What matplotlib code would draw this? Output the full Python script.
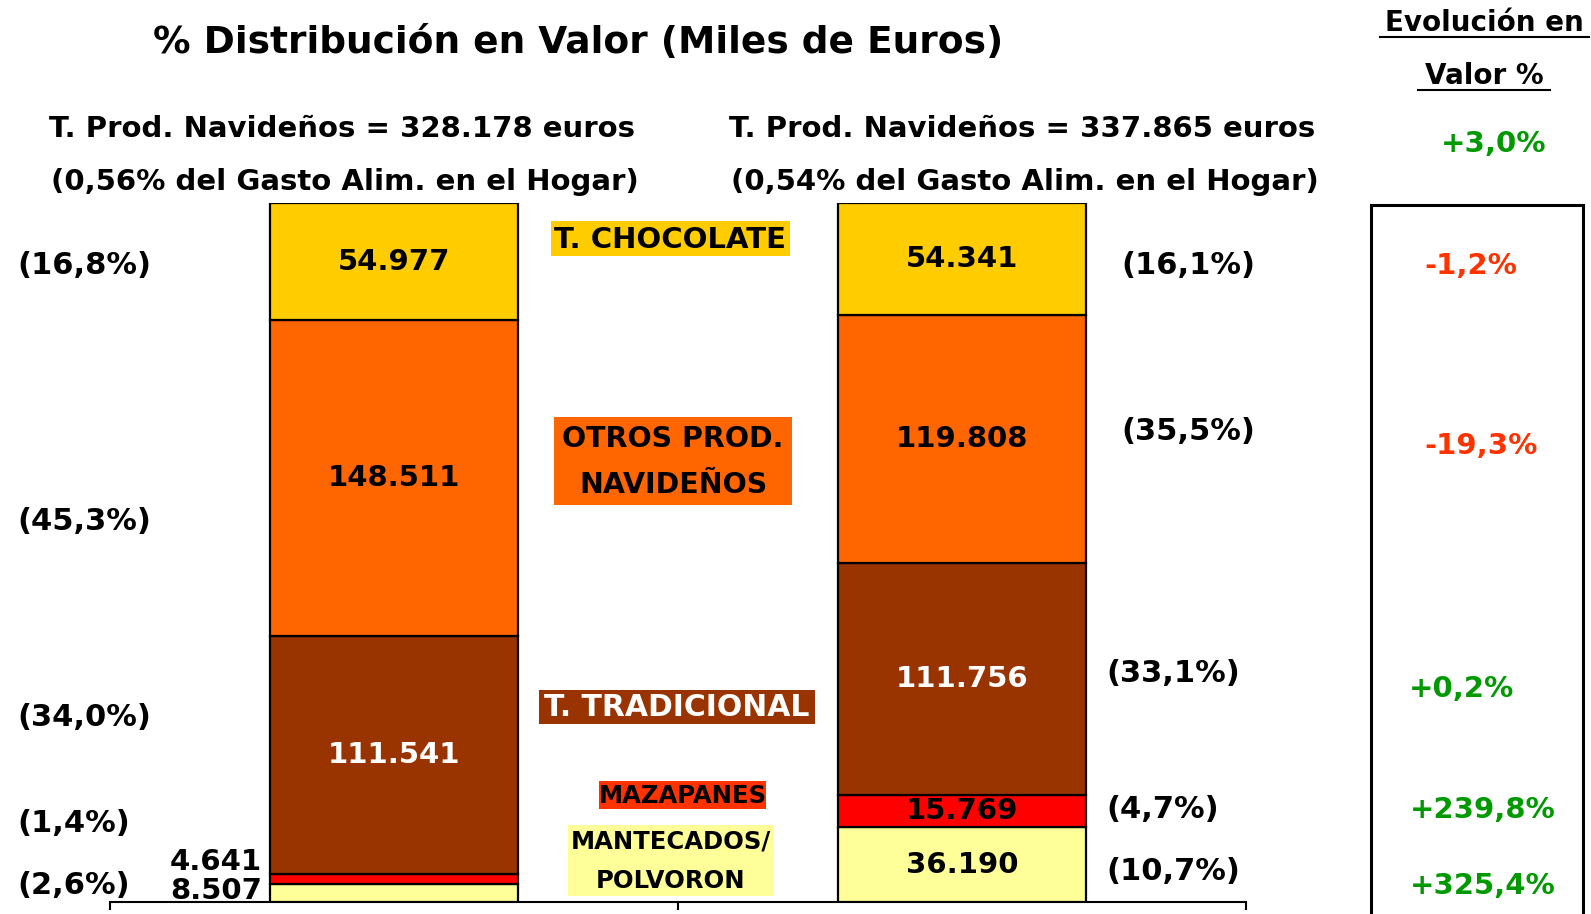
import matplotlib
matplotlib.use("Agg")
import matplotlib.pyplot as plt
from matplotlib.patches import Rectangle
from matplotlib.lines import Line2D

# ---------------- data ----------------
years = ["Año 1", "Año 2"]
segments = ["MANTECADOS/\nPOLVORON", "MAZAPANES", "T. TRADICIONAL",
            "OTROS PROD.\nNAVIDEÑOS", "T. CHOCOLATE"]
values_1 = [8507, 4641, 111541, 148511, 54977]      # miles de euros
values_2 = [36190, 15769, 111756, 119808, 54341]
totals = [328178, 337865]
share_gasto = ["0,56%", "0,54%"]
evolucion_total = "+3,0%"
evolucion = ["+325,4%", "+239,8%", "+0,2%", "-19,3%", "-1,2%"]
colors = ["#FFFF99", "#FF0000", "#993300", "#FF6600", "#FFCC00"]
label_bg = ["#FFFF99", "#FF3300", "#993300", "#FF6600", "#FFCC00"]
label_fg = ["black", "black", "white", "black", "black"]

W, H = 1591, 914
fig = plt.figure(figsize=(W / 100, H / 100), dpi=100)
FONT = "DejaVu Sans"


def fx(x):
    return x / W


def fy(y):
    return 1 - y / H


def ftext(x, y, s, size, color="black", ha="center", va="center", **kw):
    fig.text(fx(x), fy(y), s, fontsize=size, color=color, ha=ha, va=va,
             fontweight="bold", family=FONT, **kw)


def fmt_miles(v):
    return f"{v:,}".replace(",", ".")


def fmt_pct(p):
    return f"({p:.1f}%)".replace(".", ",")


# ---------------- bars ----------------
ax = fig.add_axes([fx(110), fy(902), fx(1246) - fx(110), fy(203) - fy(902)])
ax.set_xlim(-0.5, 1.5)
ax.set_ylim(0, 100)
bw = 0.437
for i, vals in enumerate([values_1, values_2]):
    tot = sum(vals)
    bottom = 0
    for j, v in enumerate(vals):
        h = v / tot * 100
        ax.bar(i, h, bottom=bottom, width=bw, color=colors[j],
               edgecolor="black", linewidth=1.6, zorder=3)
        txtcol = "white" if colors[j] == "#993300" else "black"
        if not (i == 0 and j < 2):
            ax.text(i, bottom + h / 2, fmt_miles(v), ha="center", va="center",
                    fontsize=21, fontweight="bold", color=txtcol, family=FONT,
                    zorder=4)
        bottom += h

for s in ["left", "right", "top"]:
    ax.spines[s].set_visible(False)
ax.spines["bottom"].set_linewidth(1.5)
ax.set_yticks([])
ax.set_xticks([-0.5, 0.5, 1.5])
ax.set_xticklabels([])
ax.tick_params(axis="x", length=6, width=1.5, direction="out")

# small values of first bar outside to the left
ftext(262, 862, fmt_miles(values_1[1]), 21, ha="right")
ftext(262, 891, fmt_miles(values_1[0]), 21, ha="right")

# ---------------- titles ----------------
ftext(578, 43, "% Distribución en Valor (Miles de Euros)", 27)
for i, (cx, tot, sh) in enumerate(zip([342, 1022], totals, share_gasto)):
    ftext(cx, 129, f"T. Prod. Navideños = {fmt_miles(tot)} euros", 21)
    ftext(cx + 3, 182, f"({sh} del Gasto Alim. en el Hogar)", 21)

# ---------------- percentage labels ----------------
left_y = [885, 824, 718, 522, 266]
right_y = [871, 810, 673, 431, 265]
right_x = [1106, 1106, 1106, 1121, 1121]
for j in range(5):
    ftext(17, left_y[j], fmt_pct(values_1[j] / sum(values_1) * 100), 22, ha="left")
    ftext(right_x[j], right_y[j], fmt_pct(values_2[j] / sum(values_2) * 100), 22, ha="left")

# ---------------- category label boxes ----------------
boxes = [(568, 825, 774, 896), (599, 781, 766, 809), (539, 690, 815, 724),
         (554, 417, 792, 505), (551, 221, 790, 256)]
label_size = [17.5, 17.5, 21.5, 20.5, 21]
label_ls = [1.8, 1.2, 1.2, 1.8, 1.2]
for j, (x0, y0, x1, y1) in enumerate(boxes):
    fig.patches.append(Rectangle((fx(x0), fy(y1)), fx(x1) - fx(x0), fy(y0) - fy(y1),
                                 transform=fig.transFigure, facecolor=label_bg[j],
                                 edgecolor="none", zorder=1))
    ftext((x0 + x1) / 2, (y0 + y1) / 2 + 1, segments[j], label_size[j],
          color=label_fg[j], linespacing=label_ls[j], zorder=2)

# ---------------- evolution column ----------------
ftext(1484, 23, "Evolución en", 20)
ftext(1484, 76, "Valor %", 20)
fig.lines.append(Line2D([fx(1380), fx(1589)], [fy(37), fy(37)], transform=fig.transFigure,
                        color="black", lw=1.5))
fig.lines.append(Line2D([fx(1418), fx(1550)], [fy(90), fy(90)], transform=fig.transFigure,
                        color="black", lw=1.5))
ftext(1494, 144, evolucion_total, 21, color="#009900")
fig.patches.append(Rectangle((fx(1371), fy(930)), fx(1583) - fx(1371), fy(205) - fy(930),
                             transform=fig.transFigure, facecolor="none",
                             edgecolor="black", linewidth=2.2))
evo_x = [1483, 1483, 1461, 1481, 1471]
evo_y = [886, 810, 689, 446, 266]
for j in range(5):
    col = "#009900" if evolucion[j].startswith("+") else "#FF3300"
    ftext(evo_x[j], evo_y[j], evolucion[j], 21, color=col)

fig.savefig("out.png", dpi=100)
